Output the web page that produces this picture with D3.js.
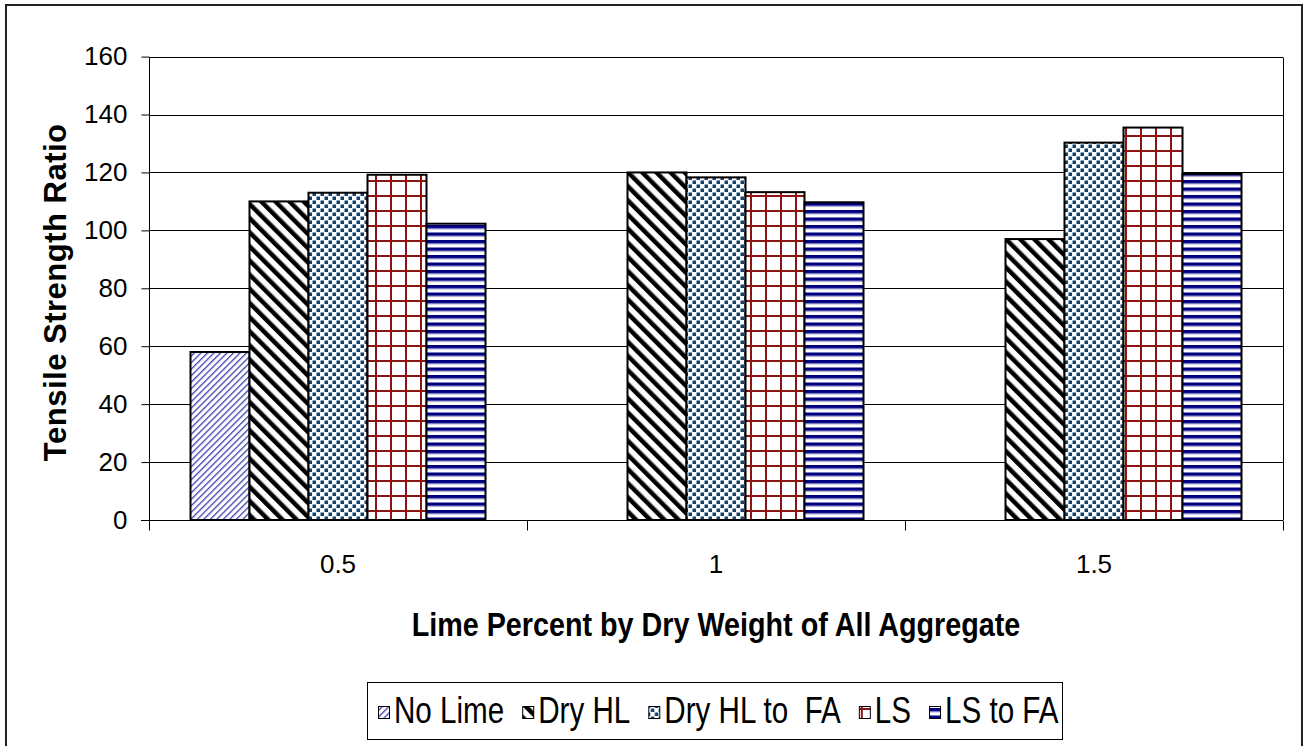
<!DOCTYPE html>
<html>
<head>
<meta charset="utf-8">
<script src="https://cdn.jsdelivr.net/npm/d3@7"></script>
<style>
  html, body { margin: 0; padding: 0; background: #fff; }
  svg { display: block; }
  text { font-family: "Liberation Sans", Arial, sans-serif; fill: #000; }
</style>
</head>
<body>
<svg id="chart" width="1306" height="746"></svg>
<script>
// ---- data ----
const categories = ["0.5", "1", "1.5"];
const seriesNames = ["No Lime", "Dry HL", "Dry HL to  FA", "LS", "LS to FA"];
const noLime   = [58, null, null];
const dryHL    = [110, 120, 97];
const dryHLFA  = [113, 118.3, 130.3];
const ls       = [119.2, 113.2, 135.5];
const lsFA     = [102.3, 109.7, 119.5];
const yTicks   = [0, 20, 40, 60, 80, 100, 120, 140, 160];
const yTitle = "Tensile Strength Ratio";
const xTitle = "Lime Percent by Dry Weight of All Aggregate";

const seriesValues = [noLime, dryHL, dryHLFA, ls, lsFA];

const svg = d3.select("#chart");
const plot = { left: 149, right: 1283, top: 56.6, bottom: 520 };

// ---- patterns ----
const defs = svg.append("defs");
function pat(id, w, h, transform) {
  const p = defs.append("pattern").attr("id", id)
    .attr("patternUnits", "userSpaceOnUse").attr("width", w).attr("height", h);
  if (transform) p.attr("patternTransform", transform);
  p.append("rect").attr("width", w).attr("height", h).attr("fill", "#fff");
  return p;
}
let p0 = pat("p0", 4.6, 4.6, "rotate(45)");
p0.append("rect").attr("x", 0).attr("y", 0).attr("width", 1.3).attr("height", 4.6).attr("fill", "#3f3fb0");
let p1 = pat("p1", 10, 10, "rotate(-45)");
p1.append("rect").attr("x", 0).attr("y", 0).attr("width", 4.5).attr("height", 10).attr("fill", "#000");
let p2 = pat("p2", 8, 8);
p2.append("rect").attr("x", 0.5).attr("y", 0.5).attr("width", 3.5).attr("height", 3.5).attr("fill", "#0f426f");
p2.append("rect").attr("x", 4.5).attr("y", 4.5).attr("width", 3.5).attr("height", 3.5).attr("fill", "#0f426f");
let p3 = pat("p3", 15, 15);
p3.append("rect").attr("x", 0).attr("y", 0).attr("width", 2).attr("height", 15).attr("fill", "#8e1414");
p3.append("rect").attr("x", 0).attr("y", 0).attr("width", 15).attr("height", 2).attr("fill", "#8e1414");
let p4 = pat("p4", 7, 7.5);
p4.append("rect").attr("x", 0).attr("y", 0).attr("width", 7).attr("height", 3.5).attr("fill", "#000080");
p4.append("rect").attr("x", 0).attr("y", 3.5).attr("width", 7).attr("height", 1).attr("fill", "#b8b8e0");
const fills = ["url(#p0)", "url(#p1)", "url(#p2)", "url(#p3)", "url(#p4)"];

// ---- outer border ----
svg.append("rect").attr("x", 6).attr("y", 5).attr("width", 1296).attr("height", 760)
  .attr("fill", "none").attr("stroke", "#222").attr("stroke-width", 2);

// ---- scales ----
const x0 = d3.scaleBand().domain(categories).range([plot.left, plot.right]).padding(0);
const inner = x0.bandwidth();
const groupW = 295;
const x1 = d3.scaleBand().domain(d3.range(seriesNames.length))
  .range([(inner - groupW) / 2, (inner + groupW) / 2]).padding(0);
const y = d3.scaleLinear().domain([0, 160]).range([plot.bottom, plot.top]);

// ---- gridlines ----
svg.append("g").selectAll("line").data(yTicks.filter(d => d > 0)).join("line")
  .attr("x1", plot.left).attr("x2", plot.right)
  .attr("y1", d => Math.round(y(d)) + 0.5).attr("y2", d => Math.round(y(d)) + 0.5)
  .attr("stroke", "#000").attr("stroke-width", 1);
svg.append("line").attr("x1", plot.right + 0.5).attr("x2", plot.right + 0.5)
  .attr("y1", Math.round(y(160)) + 0.5).attr("y2", plot.bottom)
  .attr("stroke", "#000").attr("stroke-width", 1);

// ---- bars ----
const data = [];
categories.forEach((c, i) => seriesValues.forEach((s, j) => {
  if (s[i] != null) data.push({ cat: c, si: j, v: s[i] });
}));
svg.append("g").selectAll("rect").data(data).join("rect")
  .attr("x", d => x0(d.cat) + x1(d.si))
  .attr("y", d => y(d.v))
  .attr("width", x1.bandwidth())
  .attr("height", d => y(0) - y(d.v))
  .attr("fill", d => fills[d.si])
  .attr("stroke", "#000").attr("stroke-width", 2);

// ---- axes ----
const yAxis = d3.axisLeft(y).tickValues(yTicks).tickSize(8).tickPadding(14);
const gy = svg.append("g").attr("transform", `translate(${plot.left + 0.5},0)`).call(yAxis);
gy.select(".domain").attr("stroke", "#000").attr("d", `M0,${Math.round(y(160))}V${plot.bottom + 10}`);
gy.selectAll(".tick line").attr("stroke", "#000");
gy.selectAll(".tick text").style("font-size", "26px").style("font-family", "Liberation Sans, Arial, sans-serif").attr("fill", "#000");

const gx = svg.append("g").attr("transform", `translate(0,${plot.bottom + 0.5})`);
gx.append("line").attr("x1", plot.left - 8).attr("x2", plot.right).attr("y1", 0).attr("y2", 0).attr("stroke", "#000");
const bounds = categories.map(c => x0(c)).concat([plot.right]);
gx.selectAll("line.tk").data(bounds).join("line").attr("class", "tk")
  .attr("x1", d => Math.round(d) + 0.5).attr("x2", d => Math.round(d) + 0.5)
  .attr("y1", 0).attr("y2", 10).attr("stroke", "#000");
gx.selectAll("text").data(categories).join("text")
  .attr("x", d => x0(d) + inner / 2).attr("y", 52)
  .attr("text-anchor", "middle").style("font-size", "26px").text(d => d);

// ---- axis titles (horizontally condensed like the reference) ----
svg.append("g").attr("transform", `translate(${(plot.left + plot.right) / 2},636) scale(0.845,1)`)
  .append("text").attr("x", 0).attr("y", 0)
  .attr("text-anchor", "middle").style("font-size", "34px").style("font-weight", "bold")
  .text(xTitle);
svg.append("text").attr("transform", `translate(66,${(plot.top + plot.bottom) / 2 + 4}) rotate(-90)`)
  .attr("text-anchor", "middle").style("font-size", "31px").style("font-weight", "bold")
  .style("letter-spacing", "0.5px").text(yTitle);

// ---- legend ----
const lg = svg.append("g");
lg.append("rect").attr("x", 367.5).attr("y", 682.5).attr("width", 695).attr("height", 57)
  .attr("fill", "#fff").attr("stroke", "#000").attr("stroke-width", 1);
const cond = 0.8;
let lx = 378;
seriesNames.forEach((name, i) => {
  // swatch in its own local frame so the fill pattern starts just inside the swatch corner
  lg.append("g").attr("transform", `translate(${lx + 2},708)`)
    .append("rect").attr("x", -1.5).attr("y", -1.5).attr("width", 11).attr("height", 12)
    .attr("fill", fills[i]).attr("stroke", "#000").attr("stroke-width", 1);
  const t = lg.append("g").attr("transform", `translate(${lx + 16},723) scale(${cond},1)`)
    .append("text").attr("x", 0).attr("y", 0)
    .style("font-size", "37px").style("white-space", "pre").text(name);
  const w = t.node().getComputedTextLength() * cond;
  lx += 16 + w + 18;
});
</script>
</body>
</html>
